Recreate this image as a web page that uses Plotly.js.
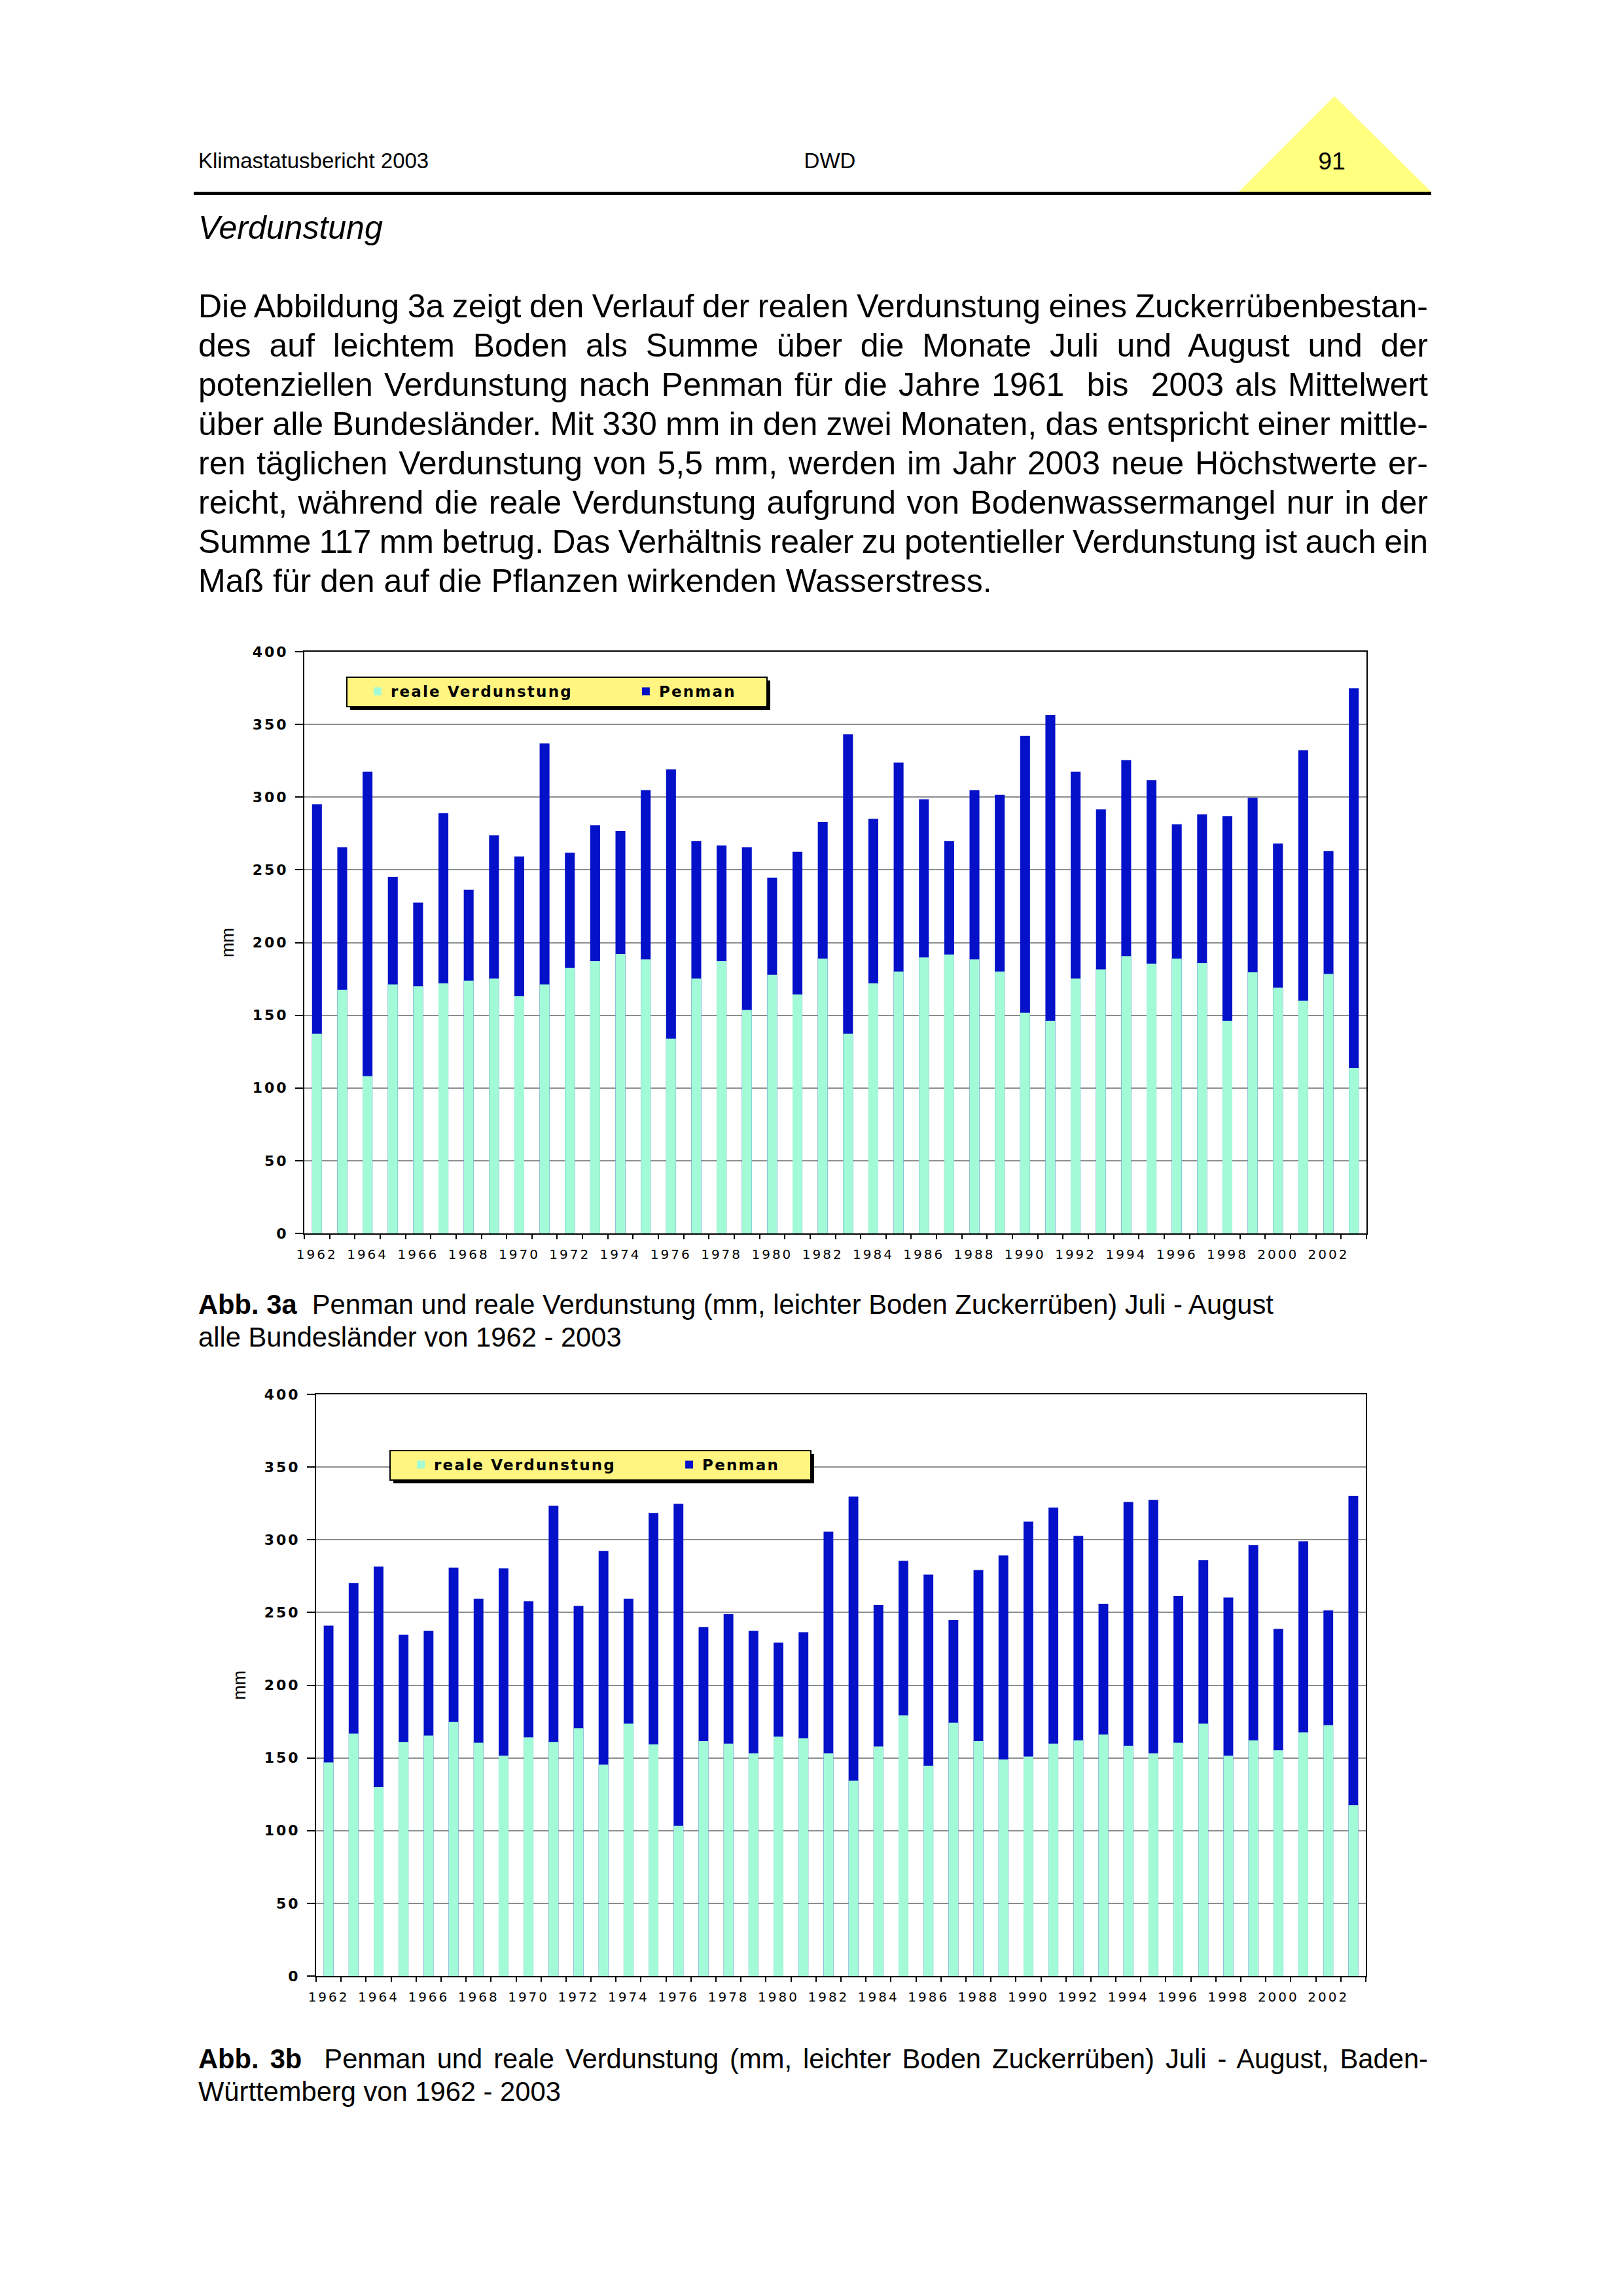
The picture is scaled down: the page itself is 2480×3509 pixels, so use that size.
<!DOCTYPE html>
<html>
<head>
<meta charset="utf-8">
<script src="https://cdn.plot.ly/plotly-3.0.1.min.js"></script>
<style>
html,body{margin:0;padding:0;background:#fff;}
#page{position:relative;width:2480px;height:3509px;overflow:hidden;font-family:'Liberation Sans',Arial,sans-serif;color:#000;background:#fff;}
.abs{position:absolute;white-space:nowrap;}
.body{position:absolute;left:303px;width:1879px;top:437.7px;font-size:50px;line-height:60px;}
.body div{text-align:justify;text-align-last:justify;word-spacing:-4px;white-space:normal;}
.body div.last{text-align:left;text-align-last:left;word-spacing:0;}
.cap{position:absolute;left:303px;width:1879px;font-size:41.7px;line-height:50px;}
.cap div{white-space:nowrap;}
.cap div.j{text-align:justify;text-align-last:justify;word-spacing:-4px;white-space:normal;}
.chart{position:absolute;}
.ytick text{letter-spacing:3px;}
.xtick text{letter-spacing:3px;}
.legendtext{letter-spacing:2.2px;}
</style>
</head>
<body>
<div id="page">
  <svg class="abs" style="left:0;top:0" width="2480" height="400">
    <polygon points="1893,293 2039,147 2187,293" fill="#FFFF80"/>
    <rect x="296" y="293" width="1891" height="5" fill="#000"/>
  </svg>
  <div class="abs" style="left:303px;top:229px;font-size:33px;line-height:33px;">Klimastatusbericht 2003</div>
  <div class="abs" style="left:1168px;width:200px;text-align:center;top:229px;font-size:33px;line-height:33px;">DWD</div>
  <div class="abs" style="left:1935px;width:200px;text-align:center;top:228px;font-size:37.5px;line-height:37.5px;">91</div>
  <div class="abs" style="left:303px;top:322.7px;font-size:50px;line-height:50px;font-style:italic;">Verdunstung</div>

  <div class="body">
    <div>Die Abbildung 3a zeigt den Verlauf der realen Verdunstung eines Zuckerrübenbestan-</div>
    <div>des auf leichtem Boden als Summe über die Monate Juli und August und der</div>
    <div>potenziellen Verdunstung nach Penman für die Jahre 1961&nbsp; bis&nbsp; 2003 als Mittelwert</div>
    <div>über alle Bundesländer. Mit 330 mm in den zwei Monaten, das entspricht einer mittle-</div>
    <div>ren täglichen Verdunstung von 5,5 mm, werden im Jahr 2003 neue Höchstwerte er-</div>
    <div>reicht, während die reale Verdunstung aufgrund von Bodenwassermangel nur in der</div>
    <div>Summe 117 mm betrug. Das Verhältnis realer zu potentieller Verdunstung ist auch ein</div>
    <div class="last">Maß für den auf die Pflanzen wirkenden Wasserstress.</div>
  </div>

  <div id="chart1" class="chart" style="left:300px;top:960px;width:1840px;height:1000px;"></div>

  <div class="cap" style="top:1968.5px;">
    <div><b>Abb. 3a</b>&nbsp; Penman und reale Verdunstung (mm, leichter Boden Zuckerrüben) Juli - August</div>
    <div>alle Bundesländer von 1962 - 2003</div>
  </div>

  <div id="chart2" class="chart" style="left:300px;top:2095px;width:1840px;height:1000px;"></div>

  <div class="cap" style="top:3121.5px;">
    <div class="j"><b>Abb. 3b</b>&nbsp; Penman und reale Verdunstung (mm, leichter Boden Zuckerrüben) Juli - August, Baden-</div>
    <div>Württemberg von 1962 - 2003</div>
  </div>
</div>

<script>
// ---- data ----
var years = [1962,1963,1964,1965,1966,1967,1968,1969,1970,1971,1972,1973,1974,1975,1976,1977,1978,1979,1980,
             1981,1982,1983,1984,1985,1986,1987,1988,1989,1990,1991,1992,1993,1994,1995,1996,1997,1998,1999,2000,2001,2002,2003];

// Abb. 3a – alle Bundesländer
var penmanDE = [295.1,265.5,317.4,245.2,227.4,289.0,236.3,273.8,259.2,336.9,261.8,280.7,276.7,304.8,319.1,269.8,266.7,265.5,244.6,
                262.4,283.0,343.2,285.0,323.7,298.5,269.8,304.8,301.6,342.1,356.4,317.4,291.6,325.4,311.7,281.3,288.2,287.0,299.6,268.1,332.3,262.9,374.8];
var realeDE  = [137.3,167.5,108.1,171.2,170.0,172.0,173.8,175.2,163.2,171.2,182.7,187.2,192.1,188.4,133.9,175.2,187.2,153.7,177.8,
                164.3,189.0,137.3,172.0,180.1,189.8,191.8,188.4,180.1,151.7,146.2,175.2,181.5,190.7,185.5,189.0,185.8,146.2,179.5,168.9,160.0,178.4,113.8];

// Abb. 3b – Baden-Württemberg
var penmanBW = [241.0,270.3,281.5,234.7,237.3,280.9,259.4,280.3,257.7,323.4,254.5,292.4,259.4,318.5,324.8,239.9,248.8,237.3,229.3,
                236.4,305.6,329.7,255.1,285.5,276.0,244.8,279.2,289.2,312.5,322.2,302.7,256.0,326.0,327.4,261.4,286.1,260.3,296.4,238.7,299.0,251.4,330.3];
var realeBW  = [146.9,166.7,130.0,161.0,165.3,174.7,160.4,151.5,164.1,161.0,170.4,145.5,173.6,159.3,103.3,161.5,159.8,153.2,164.7,
                163.6,153.2,134.3,157.8,179.3,144.6,174.2,161.5,148.9,150.9,159.8,162.1,166.1,158.4,153.2,160.4,173.6,151.5,162.1,155.2,167.6,172.5,117.4];

var seriesNames = ['reale Verdunstung','Penman'];
var yTitle = 'mm';

// ---- styles ----
var GREEN = '#A2FAD6', BLUE = '#0511C8', LEGEND_BG = '#FFF580';

function traces(penman, reale){
  return [
    {type:'bar', name:seriesNames[1], x:years, y:penman, width:0.39, marker:{color:BLUE, line:{width:0}}, hoverinfo:'skip'},
    {type:'bar', name:seriesNames[0], x:years, y:reale,  width:0.39, marker:{color:GREEN, line:{width:0}}, hoverinfo:'skip'}
  ];
}

// legend frame + shadow (decoration), given in pixel positions inside the chart div
function legendFrame(m, W, H, bx0, by0, bx1, by1){
  var pw = W - m.l - m.r, ph = H - m.t - m.b, off = 5;
  function px(v){ return (v - m.l)/pw; }
  function py(v){ return 1 - (v - m.t)/ph; }
  return [
    {type:'rect', xref:'paper', yref:'paper', x0:px(bx0+off), x1:px(bx1+off), y0:py(by1+off), y1:py(by0+off),
     fillcolor:'#000', line:{width:0}, layer:'above'},
    {type:'rect', xref:'paper', yref:'paper', x0:px(bx0), x1:px(bx1), y0:py(by1), y1:py(by0),
     fillcolor:LEGEND_BG, line:{color:'#000', width:2}, layer:'above'}
  ];
}

function layout(W,H,m,lx,ly,frame){
  return {
    width:W, height:H, margin:m, paper_bgcolor:'#fff', plot_bgcolor:'#fff',
    barmode:'overlay', showlegend:true,
    font:{family:'Liberation Sans', color:'#000'},
    shapes:frame,
    legend:{orientation:'h', x:lx, y:ly, xanchor:'left', yanchor:'top',
            bgcolor:'rgba(0,0,0,0)', borderwidth:0,
            font:{family:'DejaVu Sans', size:23, color:'#000', weight:'bold'},
            traceorder:'reversed', entrywidth:338, entrywidthmode:'pixels', indentation:27},
    xaxis:{range:[1961.5,2003.5], tick0:1962, dtick:2, ticks:'outside', ticklen:7, tickcolor:'rgba(0,0,0,0)',
           tickfont:{family:'DejaVu Sans', size:20, color:'#000'}, ticklabelstandoff:6,
           showline:true, linecolor:'#000', linewidth:2, mirror:true, showgrid:false, zeroline:false,
           minor:{tick0:1961.5, dtick:1, ticks:'outside', ticklen:7, tickwidth:2, tickcolor:'#000', showgrid:false}},
    yaxis:{range:[0,400], tick0:0, dtick:50, ticks:'outside', ticklen:12, tickwidth:2, tickcolor:'#000',
           tickfont:{family:'DejaVu Sans', size:22, color:'#000', weight:'bold'},
           showline:true, linecolor:'#000', linewidth:2, mirror:true,
           showgrid:true, gridcolor:'#8a8f8f', gridwidth:2, zeroline:false,
           ticklabelstandoff:6,
           title:{text:yTitle, font:{family:'Liberation Sans', size:27, color:'#000'}, standoff:20}}
  };
}

function enlargeSymbols(gd){
  gd.querySelectorAll('.legendbar').forEach(function(p){
    var t = p.getAttribute('transform') || '';
    p.setAttribute('transform', t + ' scale(1.6,1.2)');
  });
}

var cfg = {displayModeBar:false, staticPlot:true};
var W = 1840, H = 1000;
var m1 = {l:165, r:52, t:36, b:75};
var m2 = {l:183, r:53, t:36, b:75};

Plotly.newPlot('chart1', traces(penmanDE, realeDE),
  layout(W,H,m1,0.0400,0.9561, legendFrame(m1,W,H,230,75,872,120)), cfg).then(enlargeSymbols);
Plotly.newPlot('chart2', traces(penmanBW, realeBW),
  layout(W,H,m2,0.0705,0.9033, legendFrame(m2,W,H,296,122,939,167)), cfg).then(enlargeSymbols);
</script>
</body>
</html>
